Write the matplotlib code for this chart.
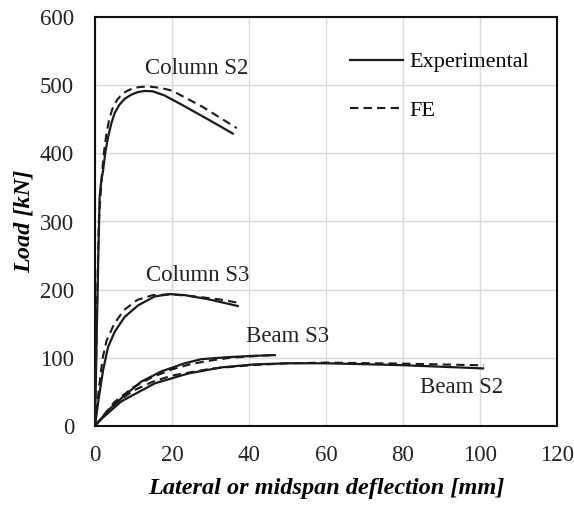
import matplotlib
matplotlib.use("Agg")
import matplotlib.pyplot as plt

plt.rcParams['font.family'] = ['Liberation Serif', 'DejaVu Serif']

# Column S2
col_s2_exp_x = [0, 0.5, 0.9, 1.2, 1.6, 2.1, 2.7, 3.4, 4.2, 5.1, 6.3, 7.7, 9.4, 11.2, 13, 15, 18, 22, 29, 35.8]
col_s2_exp_y = [0, 150, 260, 336, 358, 375, 402, 424, 443, 459, 471, 480, 486, 490, 491.5, 491, 485, 473, 451, 429]
col_s2_fe_x = [0, 0.5, 1.0, 1.8, 2.4, 3, 3.7, 4.5, 5.7, 7, 8.5, 10, 12, 14, 17, 20, 28, 36.8]
col_s2_fe_y = [0, 170, 300, 370, 405, 430, 450, 465, 478, 487, 492, 496, 497.5, 498, 496, 492, 468, 437]

# Column S3
col_s3_exp_x = [0, 0.9, 2.1, 3.4, 5.1, 7.7, 11.2, 15.5, 19.4, 23.3, 29.4, 37.1]
col_s3_exp_y = [0, 38, 82, 116, 138, 160, 177, 190, 193.5, 192, 186, 176]
col_s3_fe_x = [0, 1, 2, 3, 5, 7.5, 11, 15, 20, 26, 32, 37]
col_s3_fe_y = [0, 55, 100, 125, 150, 170, 185, 192, 193, 190, 186, 181]

# Beam S3
beam_s3_exp_x = [0, 3.4, 7.7, 12, 17.2, 23.3, 27.6, 34.5, 41.5, 46.7]
beam_s3_exp_y = [0, 23, 45, 65, 80, 92, 98, 101, 103, 104]
beam_s3_fe_x = [0, 5, 10, 15, 20, 25, 30, 35, 40, 46]
beam_s3_fe_y = [0, 35, 57, 72, 83, 91, 96, 100, 102, 104]

# Beam S2
beam_s2_exp_x = [0, 0.8, 6.8, 15.5, 24.2, 32.8, 41.5, 50.1, 60, 79, 100.8]
beam_s2_exp_y = [0, 6, 36, 62.5, 77, 86, 90.4, 92, 92, 89.4, 84.5]
beam_s2_fe_x = [0, 5, 10, 15, 20, 30, 40, 50, 60, 80, 101]
beam_s2_fe_y = [0, 32, 52, 65, 74, 84, 89, 92, 93, 91.5, 89]

labels = [("Column S2", 26.4, 525), ("Column S3", 26.8, 221),
          ("Beam S3", 50, 132), ("Beam S2", 95.2, 56)]

fig = plt.figure(figsize=(5.74, 5.05), dpi=100)
ax = fig.add_axes([95 / 574, 79 / 505, 462 / 574, 409 / 505])

lc = '#1a1a1a'
series = [(col_s2_exp_x, col_s2_exp_y, col_s2_fe_x, col_s2_fe_y),
          (col_s3_exp_x, col_s3_exp_y, col_s3_fe_x, col_s3_fe_y),
          (beam_s3_exp_x, beam_s3_exp_y, beam_s3_fe_x, beam_s3_fe_y),
          (beam_s2_exp_x, beam_s2_exp_y, beam_s2_fe_x, beam_s2_fe_y)]
for i, (ex, ey, fx, fy) in enumerate(series):
    ax.plot(ex, ey, color=lc, lw=1.6, label='Experimental' if i == 0 else None, zorder=3)
    ax.plot(fx, fy, color=lc, lw=1.5, dashes=(4, 2.5), label='FE' if i == 0 else None, zorder=3)

for txt, x, y in labels:
    ax.text(x, y, txt, fontsize=16.5, ha='center', va='center', color='#222222')

ax.set_xlim(0, 120)
ax.set_ylim(0, 600)
ax.set_xticks(range(0, 121, 20))
ax.set_yticks(range(0, 601, 100))
ax.grid(True, color='#d9d9d9', lw=1)
ax.set_axisbelow(True)
ax.tick_params(length=0, labelsize=16.5, colors='#222222')
ax.tick_params(axis='x', pad=14)
ax.tick_params(axis='y', pad=15)
for s in ax.spines.values():
    s.set_color('#111111')
    s.set_linewidth(1.5)

ax.set_xlabel('Lateral or midspan deflection [mm]', fontsize=17.5, fontweight='bold',
              fontstyle='italic', labelpad=8)
ax.set_ylabel('Load [kN]', fontsize=17.5, fontweight='bold', fontstyle='italic', labelpad=4)

ax.legend(loc='upper left', bbox_to_anchor=(0.527, 0.942), frameon=False, fontsize=16,
          handlelength=2.4, handletextpad=0.3, labelspacing=1.25, borderpad=0)

fig.savefig('out.png', dpi=100)
